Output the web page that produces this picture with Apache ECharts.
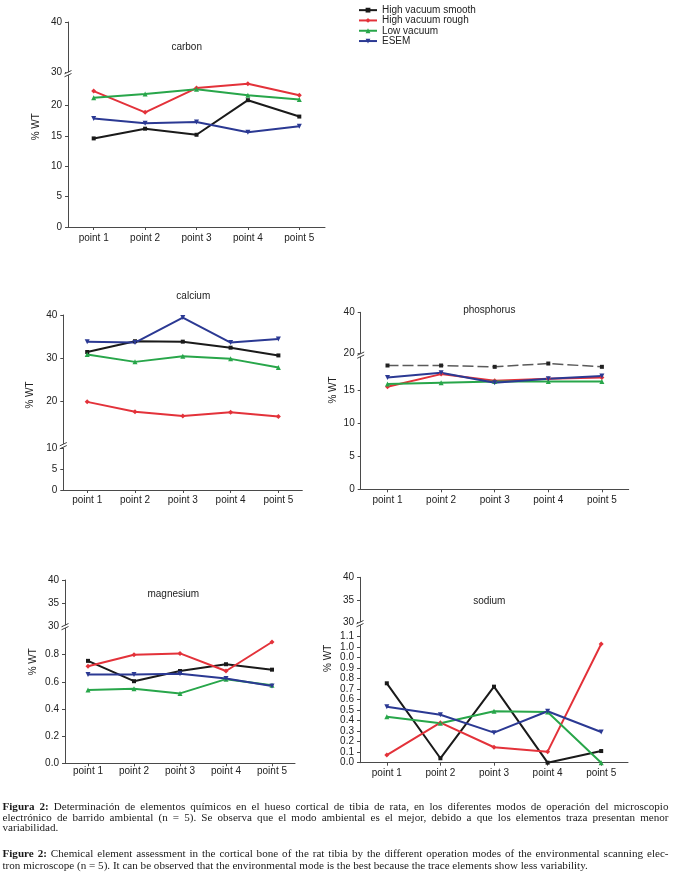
<!DOCTYPE html>
<html><head><meta charset="utf-8">
<script src="https://cdn.jsdelivr.net/npm/echarts@6/dist/echarts.min.js"></script>
<style>html,body{margin:0;padding:0;background:#fff}#c{width:673px;height:877px}</style>
</head><body><div id="c"></div>
<script>
// ---------- data ----------
const categories = ['point 1', 'point 2', 'point 3', 'point 4', 'point 5'];
const seriesNames = ['High vacuum smooth', 'High vacuum rough', 'Low vacuum', 'ESEM'];

const carbonSmooth = [14.6, 16.2, 15.2, 20.9, 18.2];
const carbonRough  = [22.4, 18.9, 22.9, 23.6, 21.7];
const carbonLow    = [21.3, 21.9, 22.7, 21.7, 21.0];
const carbonEsem   = [17.9, 17.1, 17.3, 15.6, 16.6];

const calciumSmooth = [31.4, 33.9, 33.8, 32.4, 30.6];
const calciumRough  = [19.8, 17.5, 16.5, 17.4, 16.4];
const calciumLow    = [30.8, 29.1, 30.4, 29.8, 27.8];
const calciumEsem   = [33.8, 33.6, 39.4, 33.6, 34.4];

const phosphorusSmooth = [18.7, 18.7, 18.5, 19.0, 18.5];
const phosphorusRough  = [15.5, 17.4, 16.4, 16.7, 16.9];
const phosphorusLow    = [15.9, 16.1, 16.3, 16.3, 16.3];
const phosphorusEsem   = [16.9, 17.6, 16.1, 16.7, 17.1];

const magnesiumSmooth = [0.755, 0.605, 0.68, 0.73, 0.69];
const magnesiumRough  = [0.715, 0.80, 0.81, 0.68, 0.894];
const magnesiumLow    = [0.54, 0.55, 0.515, 0.62, 0.575];
const magnesiumEsem   = [0.655, 0.655, 0.66, 0.625, 0.57];

const sodiumSmooth = [0.756, 0.042, 0.724, 0.0, 0.111];
const sodiumRough  = [0.073, 0.381, 0.147, 0.105, 1.13];
const sodiumLow    = [0.438, 0.375, 0.49, 0.483, 0.0];
const sodiumEsem   = [0.533, 0.457, 0.286, 0.49, 0.292];

// tick values / labels
const carbonUpperTicks = [30, 40];
const carbonLowerTicks = [0, 5, 10, 15, 20];
const calciumUpperTicks = [20, 30, 40];
const calciumLowerTicks = [0, 5, 10];
const phosphorusUpperTicks = [20, 40];
const phosphorusLowerTicks = [0, 5, 10, 15];
const magnesiumUpperTicks = [30, 35, 40];
const magnesiumLowerTicks = [0, 0.2, 0.4, 0.6, 0.8];
const sodiumUpperTicks = [30, 35, 40];
const sodiumLowerTicks = [0, 0.1, 0.2, 0.3, 0.4, 0.5, 0.6, 0.7, 0.8, 0.9, 1.0, 1.1, 1.2];
const sodiumLowerLabels = ['0.0','0.1','0.2','0.3','0.4','0.5','0.6','0.7','0.8','0.9','0.0','1.0','1.1'];

const panelTitles = ['carbon', 'calcium', 'phosphorus', 'magnesium', 'sodium'];
const yName = '% WT';

const captionLines = [
  'Figura 2: Determinación de elementos químicos en el hueso cortical de tibia de rata, en los diferentes modos de operación del microscopio',
  'electrónico de barrido ambiental (n = 5). Se observa que el modo ambiental es el mejor, debido a que los elementos  traza presentan menor',
  'variabilidad.',
  'Figure 2: Chemical element assessment in the cortical bone of the rat tibia by the different operation modes of the environmental scanning elec-',
  'tron microscope (n = 5). It can be observed that the environmental mode is the best because the trace elements show less variability.'
];

// ---------- layout / style ----------
const FONT = '"Liberation Sans", Arial, Helvetica, sans-serif';
const SERIF = '"Liberation Serif", "Times New Roman", serif';
const AXIS_COLOR = '#4a4a4a';
const TEXT_COLOR = '#222';

const seriesStyles = [
  { color: '#1a1a1a', symbol: 'rect', size: 4 },
  { color: '#e3323a', symbol: 'diamond', size: 5 },
  { color: '#28a64a', symbol: 'triangle', size: 5 },
  { color: '#2b3993', symbol: 'path://M0,0L10,0L5,9Z', size: 5 }
];

const fmtInt = v => String(v);
const fmt1 = v => v.toFixed(1);
const fmtSodium = v => sodiumLowerLabels[Math.round(v * 10)];

const panels = [
  { data: [carbonSmooth, carbonRough, carbonLow, carbonEsem], left: 68, width: 257, seg: 'low',
    up: { top: 22, bottom: 72.7, min: 30, max: 40, ticks: carbonUpperTicks, fmt: fmtInt },
    low: { top: 75.3, bottom: 227, min: 0, max: 25, ticks: carbonLowerTicks, fmt: fmtInt },
    titlePos: [186.7, 47.7], namePos: [36.7, 126.7], breakY: 73.5, xMargin: 6 },
  { data: [calciumSmooth, calciumRough, calciumLow, calciumEsem], left: 63.3, width: 239, seg: 'up',
    up: { top: 315, bottom: 444, min: 10, max: 40, ticks: calciumUpperTicks, fmt: fmtInt },
    low: { top: 448, bottom: 490, min: 0, max: 10, ticks: calciumLowerTicks, fmt: fmtInt },
    titlePos: [193.3, 296.7], namePos: [30, 395], breakY: 445.5, xMargin: 5 },
  { data: [phosphorusSmooth, phosphorusRough, phosphorusLow, phosphorusEsem], left: 360.7, width: 268, seg: 'low',
    up: { top: 312.3, bottom: 353.5, min: 20, max: 40, ticks: phosphorusUpperTicks, fmt: fmtInt },
    low: { top: 356.9, bottom: 489.3, min: 0, max: 20, ticks: phosphorusLowerTicks, fmt: fmtInt },
    titlePos: [489.3, 310], namePos: [333.3, 390], breakY: 355, xMargin: 6 },
  { data: [magnesiumSmooth, magnesiumRough, magnesiumLow, magnesiumEsem], left: 65, width: 230, seg: 'low',
    up: { top: 580, bottom: 626, min: 30, max: 40, ticks: magnesiumUpperTicks, fmt: fmtInt },
    low: { top: 627.6, bottom: 763.3, min: 0, max: 1.0, ticks: magnesiumLowerTicks, fmt: fmt1 },
    titlePos: [173.3, 594.3], namePos: [33.3, 661.7], breakY: 626.5, xMargin: 3 },
  { data: [sodiumSmooth, sodiumRough, sodiumLow, sodiumEsem], left: 360, width: 268, seg: 'low',
    up: { top: 577.3, bottom: 622.7, min: 30, max: 40, ticks: sodiumUpperTicks, fmt: fmtInt },
    low: { top: 625, bottom: 762.7, min: 0, max: 1.311, ticks: sodiumLowerTicks, fmt: fmtSodium },
    titlePos: [489.3, 601], namePos: [328.3, 658.3], breakY: 623.5, xMargin: 6 }
];

const grid = [], xAxis = [], yAxis = [], series = [], graphic = [];

function yAxisOpt(gi, seg) {
  return {
    type: 'value', gridIndex: gi, min: seg.min, max: seg.max,
    axisLine: { show: true, lineStyle: { color: AXIS_COLOR, width: 1 } },
    axisTick: { show: true, length: 3, customValues: seg.ticks, lineStyle: { color: AXIS_COLOR } },
    axisLabel: { show: true, customValues: seg.ticks, formatter: seg.fmt, margin: 6,
      fontSize: 10, fontFamily: FONT, color: TEXT_COLOR },
    splitLine: { show: false }
  };
}

panels.forEach((p, i) => {
  const gu = 2 * i, gl = 2 * i + 1;
  grid.push({ left: p.left, top: p.up.top, width: p.width, height: p.up.bottom - p.up.top, outerBoundsMode: 'none' });
  grid.push({ left: p.left, top: p.low.top, width: p.width, height: p.low.bottom - p.low.top, outerBoundsMode: 'none' });
  xAxis.push({ type: 'category', gridIndex: gu, data: categories, boundaryGap: true, show: false });
  xAxis.push({
    type: 'category', gridIndex: gl, data: categories, boundaryGap: true,
    axisLine: { show: true, lineStyle: { color: AXIS_COLOR, width: 1 } },
    axisTick: { show: true, alignWithLabel: true, length: 3, lineStyle: { color: AXIS_COLOR } },
    axisLabel: { fontSize: 10, fontFamily: FONT, color: TEXT_COLOR, margin: p.xMargin, interval: 0 },
    splitLine: { show: false }
  });
  yAxis.push(yAxisOpt(gu, p.up));
  yAxis.push(yAxisOpt(gl, p.low));

  const gd = p.seg === 'up' ? gu : gl;
  p.data.forEach((vals, s) => {
    const st = seriesStyles[s];
    const ser = {
      type: 'line', name: seriesNames[s], xAxisIndex: gd, yAxisIndex: gd, data: vals,
      symbol: st.symbol, symbolSize: st.size, showSymbol: true,
      itemStyle: { color: st.color },
      lineStyle: { color: st.color, width: 2 },
      animation: false, emphasis: { disabled: true }
    };
    if (i === 2 && s === 0) {
      ser.lineStyle = { color: '#5a5a5a', width: 1.5, type: [11, 4] };
      ser.itemStyle = { color: '#222' };
    }
    series.push(ser);
  });

  graphic.push({ type: 'text', x: p.titlePos[0], y: p.titlePos[1], z: 100,
    style: { text: panelTitles[i], fontSize: 10, fontFamily: FONT, fill: TEXT_COLOR, align: 'center', verticalAlign: 'middle' } });
  graphic.push({ type: 'text', x: p.namePos[0], y: p.namePos[1], rotation: Math.PI / 2, z: 100,
    style: { text: yName, fontSize: 10, fontFamily: FONT, fill: TEXT_COLOR, align: 'center', verticalAlign: 'middle' } });
  // axis break mark
  const ax = p.left, by = p.breakY;
  graphic.push({ type: 'rect', z: 100, shape: { x: ax - 2, y: by - 1.2, width: 4, height: 2.6 }, style: { fill: '#fff' } });
  graphic.push({ type: 'line', z: 101, shape: { x1: ax - 3.5, y1: by + 0.3, x2: ax + 3.5, y2: by - 3 }, style: { stroke: '#444', lineWidth: 1 } });
  graphic.push({ type: 'line', z: 101, shape: { x1: ax - 3.5, y1: by + 3.3, x2: ax + 3.5, y2: by }, style: { stroke: '#444', lineWidth: 1 } });
});

// ---------- caption (justified) ----------
const ctx = document.createElement('canvas').getContext('2d');
function fontStr(bold, size) { return (bold ? 'bold ' : '') + size + 'px ' + SERIF; }
function isBold(words, k) { return k < 2 && /^Figur/.test(words[0]); }
function wordWidths(line, size) {
  const words = line.split(/ +/);
  return words.map((w, k) => { ctx.font = fontStr(isBold(words, k), size); return ctx.measureText(w).width; });
}
function naturalWidth(line, size) {
  ctx.font = fontStr(false, size);
  const sp = ctx.measureText(' ').width;
  const ws = wordWidths(line, size);
  return ws.reduce((a, b) => a + b, 0) + sp * (ws.length - 1);
}
let capSize = 11 * 586 / naturalWidth(captionLines[4], 11);
capSize = Math.max(9.5, Math.min(12.5, capSize));
const capY = [806.7, 817.7, 828.5, 854.3, 865.7];
const capJustify = [true, true, false, true, false];
const capLeft = 2.5, capRight = 668.5;
captionLines.forEach((line, li) => {
  const words = line.split(/ +/);
  const ws = wordWidths(line, capSize);
  ctx.font = fontStr(false, capSize);
  const sp = ctx.measureText(' ').width;
  let gap = sp;
  if (capJustify[li]) {
    const tot = ws.reduce((a, b) => a + b, 0);
    gap = (capRight - capLeft - tot) / (words.length - 1);
  }
  let x = capLeft;
  words.forEach((w, k) => {
    graphic.push({ type: 'text', x: x, y: capY[li], z: 100,
      style: { text: w, fontSize: capSize, fontFamily: SERIF, fontWeight: isBold(words, k) ? 'bold' : 'normal',
        fill: '#1a1a1a', align: 'left', verticalAlign: 'middle' } });
    x += ws[k] + gap;
  });
});

const chart = echarts.init(document.getElementById('c'), null, { renderer: 'canvas' });
chart.setOption({
  backgroundColor: '#fff',
  animation: false,
  legend: {
    data: seriesNames, orient: 'vertical', left: 358, top: 5, padding: 0,
    itemWidth: 18, itemHeight: 6, itemGap: 0,
    textStyle: { fontSize: 10, fontFamily: FONT, color: TEXT_COLOR, lineHeight: 10.3 },
    selectedMode: false
  },
  grid, xAxis, yAxis, series,
  graphic: { elements: graphic }
});
</script>
</body></html>
